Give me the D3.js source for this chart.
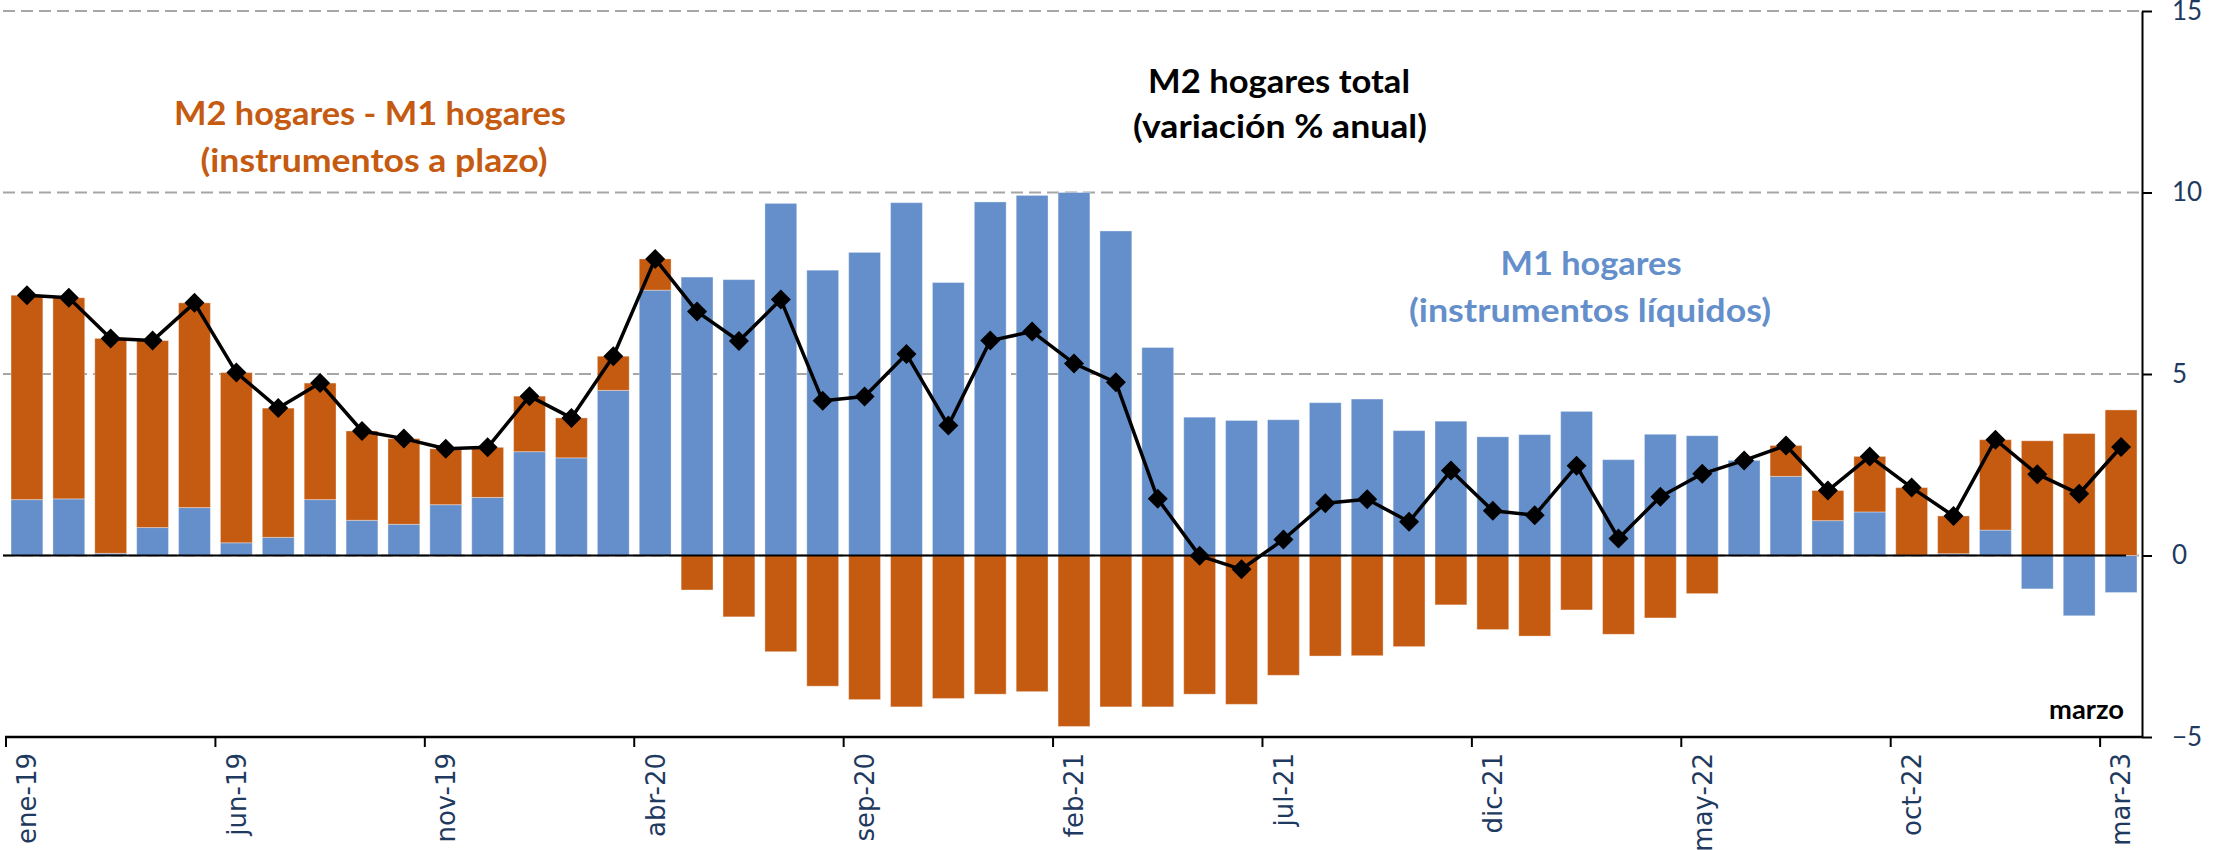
<!DOCTYPE html>
<html lang="es">
<head>
<meta charset="utf-8">
<title>M2 hogares: variación % anual</title>
<script src="https://cdn.jsdelivr.net/npm/d3@7"></script>
<style>
  html, body { margin: 0; padding: 0; background: #ffffff; }
  svg { display: block; }
</style>
</head>
<body>
<svg id="chart" width="2216" height="850"></svg>
<script>
// Meses (ene-19 a mar-23)
const categories = [
  "ene-19","feb-19","mar-19","abr-19","may-19","jun-19","jul-19","ago-19","sep-19","oct-19","nov-19","dic-19",
  "ene-20","feb-20","mar-20","abr-20","may-20","jun-20","jul-20","ago-20","sep-20","oct-20","nov-20","dic-20",
  "ene-21","feb-21","mar-21","abr-21","may-21","jun-21","jul-21","ago-21","sep-21","oct-21","nov-21","dic-21",
  "ene-22","feb-22","mar-22","abr-22","may-22","jun-22","jul-22","ago-22","sep-22","oct-22","nov-22","dic-22",
  "ene-23","feb-23","mar-23"
];

// M1 hogares (instrumentos líquidos), variación % anual
const m1Hogares = [
  1.54, 1.56, 0.06, 0.77, 1.32, 0.35, 0.50, 1.54, 0.97, 0.86, 1.40, 1.60,
  2.86, 2.69, 4.55, 7.31, 7.67, 7.60, 9.70, 7.86, 8.35, 9.72, 7.52, 9.74,
  9.92, 10.00, 8.94, 5.73, 3.81, 3.72, 3.74, 4.21, 4.31, 3.44, 3.70, 3.27,
  3.33, 3.97, 2.64, 3.34, 3.30, 2.62, 2.18, 0.96, 1.20, 0.01, 0.05, 0.70,
  -0.92, -1.66, -1.02
];

// M2 hogares - M1 hogares (instrumentos a plazo)
const m2MenosM1 = [
  5.63, 5.54, 5.92, 5.15, 5.64, 4.69, 3.56, 3.21, 2.46, 2.36, 1.54, 1.38,
  1.53, 1.10, 0.94, 0.86, -0.95, -1.69, -2.65, -3.60, -3.97, -4.17, -3.94, -3.82,
  -3.75, -4.71, -4.17, -4.17, -3.82, -4.10, -3.30, -2.77, -2.76, -2.51, -1.36, -2.04,
  -2.22, -1.50, -2.17, -1.72, -1.05, 0.00, 0.85, 0.83, 1.53, 1.86, 1.04, 2.49,
  3.16, 3.36, 4.01
];

// M2 hogares total
const m2Total = [
  7.17, 7.10, 5.98, 5.92, 6.96, 5.04, 4.06, 4.75, 3.43, 3.22, 2.94, 2.98,
  4.39, 3.79, 5.49, 8.17, 6.72, 5.91, 7.05, 4.26, 4.38, 5.55, 3.58, 5.92,
  6.17, 5.29, 4.77, 1.56, -0.01, -0.38, 0.44, 1.44, 1.55, 0.93, 2.34, 1.23,
  1.11, 2.47, 0.47, 1.62, 2.25, 2.62, 3.03, 1.79, 2.73, 1.87, 1.09, 3.19,
  2.24, 1.70, 2.99
];

// Etiquetas del eje horizontal (cada cinco meses)
const xTickLabels = ["ene-19","jun-19","nov-19","abr-20","sep-20","feb-21","jul-21","dic-21","may-22","oct-22","mar-23"];
// Marcas del eje vertical
const yTicks = [-5, 0, 5, 10, 15];
const gridValues = [0, 5, 10, 15];

const COLOR_M1 = "#648fcb";
const COLOR_PLAZO = "#c55a11";
const COLOR_AXIS_TEXT = "#1f3a5f";
const TITLE_FONT = "Lato, 'Open Sans', 'DejaVu Sans', sans-serif";

const svg = d3.select("#chart");

const plotLeft = 6, plotRight = 2142, plotTop = 11, plotBottom = 737;

const x = d3.scaleBand()
  .domain(categories)
  .range([plotLeft, plotRight])
  .paddingInner(0.24)
  .paddingOuter(0.12);

const y = d3.scaleLinear()
  .domain([-5, 15])
  .range([plotBottom, plotTop]);

const rows = categories.map((c, i) => ({ cat: c, m1: m1Hogares[i], plazo: m2MenosM1[i], total: m2Total[i] }));

// Líneas de referencia discontinuas
svg.append("g")
  .selectAll("line")
  .data(gridValues)
  .join("line")
  .attr("x1", 3)
  .attr("x2", plotRight)
  .attr("y1", d => y(d))
  .attr("y2", d => y(d))
  .attr("stroke", "#a6a6a6")
  .attr("stroke-width", 2)
  .attr("stroke-dasharray", "12,6");

// Barras apiladas (positivos hacia arriba, negativos hacia abajo)
const stack = d3.stack()
  .keys(["m1", "plazo"])
  .offset(d3.stackOffsetDiverging);
const series = stack(rows);
const colors = { m1: COLOR_M1, plazo: COLOR_PLAZO };

svg.append("g")
  .selectAll("g")
  .data(series)
  .join("g")
  .attr("fill", s => colors[s.key])
  .selectAll("rect")
  .data(s => s)
  .join("rect")
  .attr("x", d => x(d.data.cat))
  .attr("width", x.bandwidth())
  .attr("y", d => y(Math.max(d[0], d[1])))
  .attr("height", d => Math.abs(y(d[0]) - y(d[1])))
  .attr("stroke", "rgba(255,255,255,0.35)")
  .attr("stroke-width", 1);

// Línea del cero
svg.append("line")
  .attr("x1", 3)
  .attr("x2", 2126)
  .attr("y1", y(0))
  .attr("y2", y(0))
  .attr("stroke", "#000")
  .attr("stroke-width", 2);

// Eje horizontal (en -5)
const xAxis = d3.axisBottom(x)
  .tickValues(xTickLabels)
  .tickSizeInner(10)
  .tickSizeOuter(0);

const gx = svg.append("g")
  .attr("transform", `translate(0,${y(-5)})`)
  .call(xAxis);
gx.select(".domain")
  .attr("d", `M${plotLeft - 1},0H${plotRight}`)
  .attr("stroke", "#000")
  .attr("stroke-width", 2.5);
gx.selectAll(".tick line")
  .attr("x1", -x.step() / 2)
  .attr("x2", -x.step() / 2)
  .attr("stroke", "#000")
  .attr("stroke-width", 2);
gx.selectAll(".tick text")
  .attr("transform", "rotate(-90)")
  .attr("x", -16)
  .attr("y", 0)
  .attr("dy", "0.36em")
  .attr("text-anchor", "end")
  .attr("fill", COLOR_AXIS_TEXT)
  .style("font-family", "'DejaVu Sans', sans-serif")
  .style("font-size", "26px");

// Eje vertical a la derecha
const yAxis = d3.axisRight(y)
  .tickValues(yTicks)
  .tickSizeInner(10)
  .tickSizeOuter(0)
  .tickPadding(20)
  .tickFormat(d3.format("d"));

const gy = svg.append("g")
  .attr("transform", `translate(${plotRight},0)`)
  .call(yAxis);
gy.select(".domain")
  .attr("stroke", "#000")
  .attr("stroke-width", 2);
gy.selectAll(".tick line")
  .attr("stroke", "#000")
  .attr("stroke-width", 2);
gy.selectAll(".tick text")
  .attr("fill", COLOR_AXIS_TEXT)
  .style("font-family", TITLE_FONT)
  .style("font-size", "26px");

// Línea de M2 total con marcadores en rombo
const cx = d => x(d.cat) + x.bandwidth() / 2;
svg.append("path")
  .datum(rows)
  .attr("fill", "none")
  .attr("stroke", "#000")
  .attr("stroke-width", 3.5)
  .attr("stroke-linejoin", "round")
  .attr("d", d3.line().x(cx).y(d => y(d.total)));

const diamond = d3.symbol().type(d3.symbolSquare).size(200);
svg.append("g")
  .selectAll("path")
  .data(rows)
  .join("path")
  .attr("d", diamond)
  .attr("transform", d => `translate(${cx(d)},${y(d.total)}) rotate(45)`)
  .attr("fill", "#000");

// Rótulos
const labels = [
  { text: "M2 hogares - M1 hogares", x: 370, y: 125, w: 392, color: COLOR_PLAZO },
  { text: "(instrumentos a plazo)", x: 374, y: 172, w: 347, color: COLOR_PLAZO },
  { text: "M2 hogares total", x: 1279, y: 93, w: 262, color: "#000" },
  { text: "(variación % anual)", x: 1280, y: 138, w: 294, color: "#000" },
  { text: "M1 hogares", x: 1591, y: 275, w: 181, color: COLOR_M1 },
  { text: "(instrumentos líquidos)", x: 1590, y: 322, w: 362, color: COLOR_M1 }
];

svg.append("g")
  .selectAll("text")
  .data(labels)
  .join("text")
  .attr("x", d => d.x)
  .attr("y", d => d.y)
  .attr("text-anchor", "middle")
  .attr("fill", d => d.color)
  .attr("textLength", d => d.w)
  .attr("lengthAdjust", "spacingAndGlyphs")
  .style("font-family", TITLE_FONT)
  .style("font-weight", "bold")
  .style("font-size", "32px")
  .text(d => d.text);

svg.append("text")
  .attr("x", 2124)
  .attr("y", 719)
  .attr("text-anchor", "end")
  .attr("fill", "#000")
  .attr("textLength", 75)
  .attr("lengthAdjust", "spacingAndGlyphs")
  .style("font-family", TITLE_FONT)
  .style("font-weight", "bold")
  .style("font-size", "27px")
  .text("marzo");
</script>
</body>
</html>
